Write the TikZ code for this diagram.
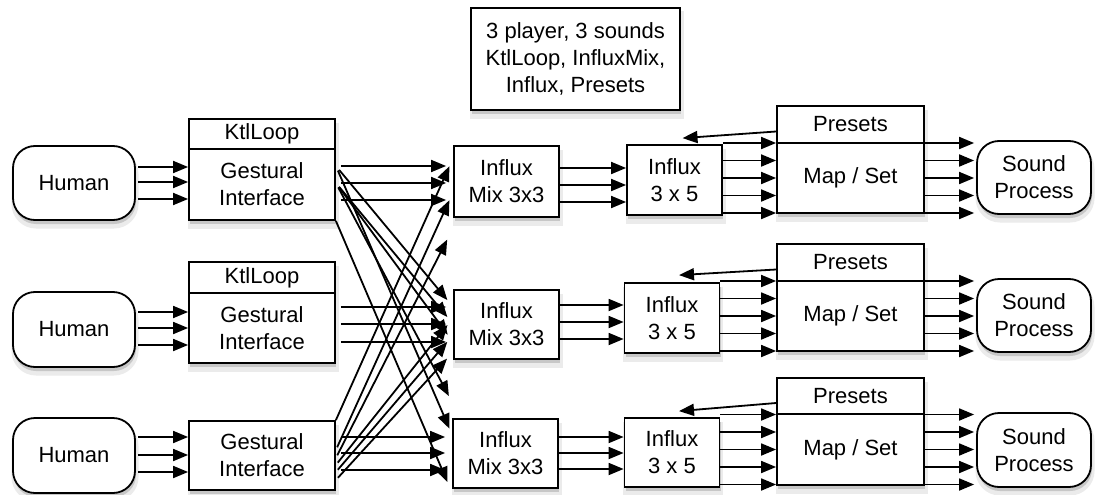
\documentclass[tikz,border=0pt]{standalone}
\usepackage{fontspec}
\setmainfont{Liberation Sans}
\usetikzlibrary{arrows.meta}
% #1 style, #2 name, #3 x, #4 y, #5 width, #6 height, #7 text
\newcommand\bx[7]{%
  \node[#1,shadowout,minimum width=#5pt,minimum height=#6pt] at (#3+1,#4+6) {};
  \node[#1,shadowin,minimum width=#5pt,minimum height=#6pt] at (#3+1,#4+4) {};
  \node[#1,minimum width=#5pt,minimum height=#6pt] (#2) at (#3,#4) {#7};
}
\begin{document}
\begin{tikzpicture}[x=1pt,y=-1pt,
  box/.style={draw,line width=1.8pt,fill=white,inner sep=0pt,align=center,
    font=\fontsize{22}{27}\selectfont},
  term/.style={box,rounded corners=22pt},
  shadowout/.style={draw=black!8,fill=black!8,line width=5pt},
  shadowin/.style={draw=none,fill=black!22},
  arr/.style={line width=1.8pt,-{Triangle[length=15pt,width=12pt]}},
]
\fill[white] (0,0) rectangle (1100,495);
\useasboundingbox (0,0) rectangle (1100,495);

% info box
\bx{box}{info}{575.5}{59}{209}{102}{3 player, 3 sounds\\KtlLoop, InfluxMix,\\Influx, Presets}

% humans
\bx{term}{h1}{74}{183}{122}{74}{Human}
\bx{term}{h2}{74}{329.5}{122}{75}{Human}
\bx{term}{h3}{74}{455.5}{122}{75}{Human}

% ktlloop + gestural
\bx{box}{k1}{262}{134}{146}{30}{KtlLoop}
\bx{box}{g1}{262}{184.5}{146}{71}{Gestural\\Interface}
\bx{box}{k2}{262}{277.5}{146}{31}{KtlLoop}
\bx{box}{g2}{262}{328}{146}{70}{Gestural\\Interface}
\bx{box}{g3}{262}{455.5}{146}{69}{Gestural\\Interface}

% influx mix
\bx{box}{m1}{506.5}{181.5}{105}{71}{Influx\\Mix 3x3}
\bx{box}{m2}{506.5}{324.5}{105}{69}{Influx\\Mix 3x3}
\bx{box}{m3}{505.5}{453.5}{105}{69}{Influx\\Mix 3x3}

% influx 3x5
\bx{box}{i1}{674.5}{180}{95}{70}{Influx\\3 x 5}
\bx{box}{i2}{672}{318}{95}{70}{Influx\\3 x 5}
\bx{box}{i3}{672}{452.5}{95}{69}{Influx\\3 x 5}

% presets + map/set
\bx{box}{p1}{850.5}{124.5}{147}{37}{Presets}
\bx{box}{s1}{850.5}{178}{147}{70}{Map / Set}
\bx{box}{p2}{850.5}{262.5}{147}{37}{Presets}
\bx{box}{s2}{850.5}{316}{147}{70}{Map / Set}
\bx{box}{p3}{850.5}{396}{147}{36}{Presets}
\bx{box}{s3}{850.5}{449.5}{147}{71}{Map / Set}

% sound process
\bx{term}{sp1}{1034}{177.5}{114}{73}{Sound\\Process}
\bx{term}{sp2}{1034}{315.5}{114}{73}{Sound\\Process}
\bx{term}{sp3}{1034}{450}{114}{74}{Sound\\Process}

% human -> gestural
\foreach \y in {167,182,199} \draw[arr,shorten <=2pt] (h1.east |- 0,\y) -- (g1.west |- 0,\y);
\foreach \y in {312,328,345} \draw[arr,shorten <=2pt] (h2.east |- 0,\y) -- (g2.west |- 0,\y);
\foreach \y in {437,455,472} \draw[arr,shorten <=2pt] (h3.east |- 0,\y) -- (g3.west |- 0,\y);

% gestural -> mix (straight)
\foreach \y in {166,183,200} \draw[arr,shorten <=5pt,shorten >=7pt] (g1.east |- 0,\y) -- (m1.west |- 0,\y);
\foreach \y in {307,324,342} \draw[arr,shorten <=5pt,shorten >=7pt] (g2.east |- 0,\y) -- (m2.west |- 0,\y);
\foreach \y in {437,453,470} \draw[arr,shorten <=5pt,shorten >=7pt] (g3.east |- 0,\y) -- (m3.west |- 0,\y);

% crossing: row 1 downwards
\foreach \a/\b in {166/307,183/324,183/342,166/437}
  \draw[arr,shorten <=5pt,shorten >=9pt] (g1.east |- 0,\a) -- (m2.west |- 0,\b);
\draw[arr,shorten <=5pt,shorten >=9pt] (g1.east |- 0,183) -- (m2.west |- 0,404);
\draw[arr,shorten >=12pt] (g1.south east) -- (m3.west |- 0,493);
% crossing: row 3 upwards
\draw[arr,shorten >=9pt] (g3.north east) -- (m1.west |- 0,158);
\foreach \a/\b in {450/192,465/318,472/335,480/352}
  \draw[arr,shorten <=3pt,shorten >=9pt] (g3.east |- 0,\a) -- (m1.west |- 0,\b);
\draw[arr,shorten <=3pt,shorten >=13pt] (g3.east |- 0,458) -- (m1.west |- 0,228);

% mix -> influx
\foreach \y in {168,185,202} \draw[arr] (m1.east |- 0,\y) -- (i1.west |- 0,\y);
\foreach \y in {305,322,339} \draw[arr] (m2.east |- 0,\y) -- (i2.west |- 0,\y);
\foreach \y in {437,453,469} \draw[arr] (m3.east |- 0,\y) -- (i3.west |- 0,\y);

% influx -> map/set, map/set -> sound
\foreach \i/\s/\sp in {i1/s1/sp1,i2/s2/sp2,i3/s3/sp3}{
  \foreach \d in {-35,-17.5,0,17.5,35}{
    \draw[arr] ([yshift=-\d pt]\i.east |- \s.center) -- ([yshift=-\d pt]\s.west);
    \draw[arr,shorten >=2pt] ([yshift=-\d pt]\s.east) -- ([yshift=-\d pt]\sp.west |- \s.center);
  }
}

% presets -> influx
\draw[arr] ([yshift=-7pt]p1.west) -- ([xshift=8pt,yshift=6pt]i1.north);
\draw[arr] ([yshift=-7pt]p2.west) -- ([xshift=7pt,yshift=7pt]i2.north);
\draw[arr] ([yshift=-7pt]p3.west) -- ([xshift=7pt,yshift=6pt]i3.north);
\end{tikzpicture}
\end{document}
